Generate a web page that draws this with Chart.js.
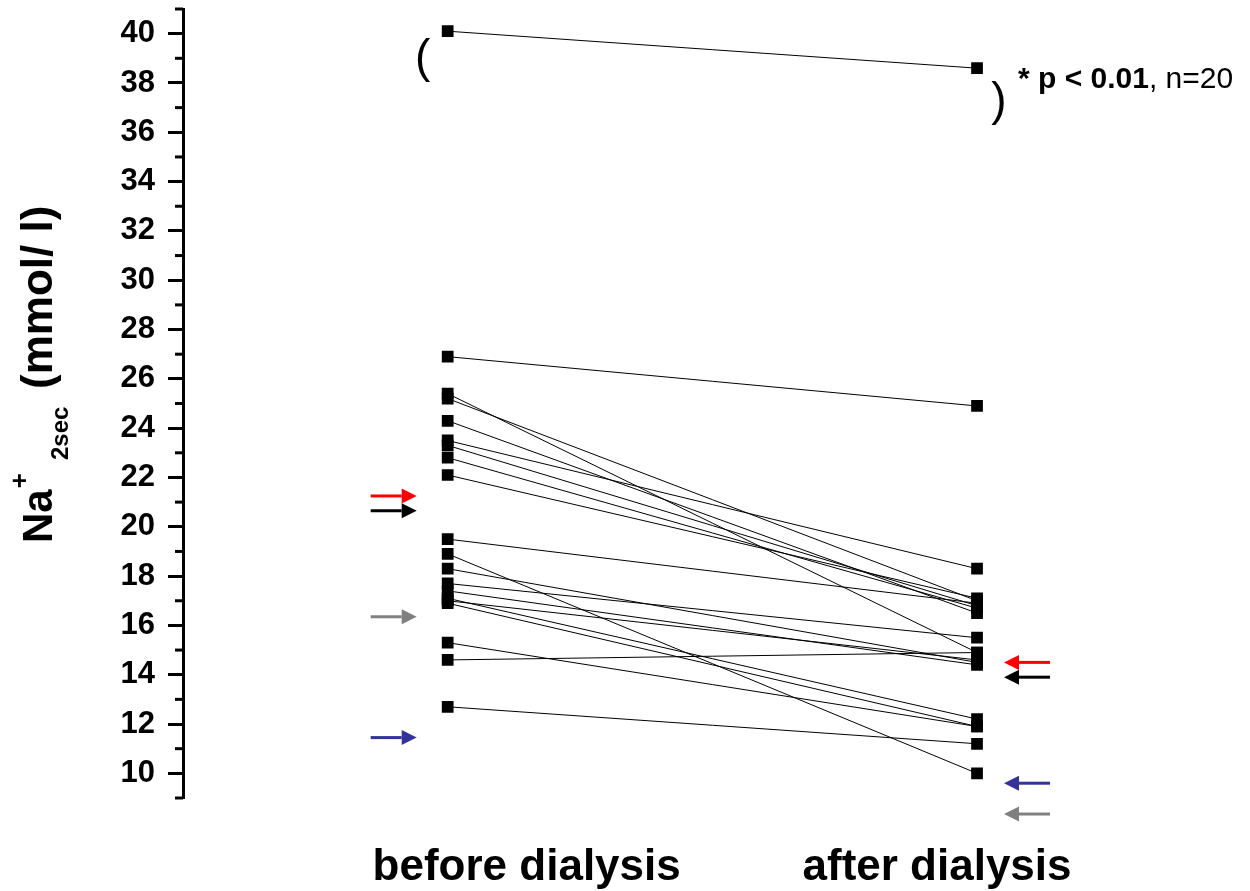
<!DOCTYPE html>
<html>
<head>
<meta charset="utf-8">
<script src="https://cdn.jsdelivr.net/npm/chart.js@4"></script>
<style>
  body { margin: 0; background: #fff; }
  canvas { display: block; }
</style>
</head>
<body>
<canvas id="myChart" width="1250" height="891"></canvas>
<script>
const ctx = document.getElementById('myChart');

// groups on the x axis
const groups = ['before dialysis', 'after dialysis'];

// labelled y ticks
const yTicks = [10, 12, 14, 16, 18, 20, 22, 24, 26, 28, 30, 32, 34, 36, 38, 40];

// Na+ 2sec per patient (n=20), same order in both arrays
const before = [40.1, 26.9, 25.4, 25.2, 24.3, 23.5, 23.3, 22.8, 22.1, 19.5,
                18.9, 18.3, 17.7, 17.4, 17.1, 16.9, 17.0, 15.3, 14.6, 12.7];
const after  = [38.6, 24.9, 14.9, 17.0, 16.5, 18.3, 16.8, 16.7, 17.1, 16.9,
                10.0, 14.5, 15.5, 14.4, 12.2, 11.9, 14.6, 11.9, 14.9, 11.2];

// reference arrows next to each column
const arrowColors = ['#ff0000', '#000000', '#808080', '#333399'];
const arrowBefore = [21.25, 20.65, 16.35, 11.45];
const arrowAfter  = [14.5, 13.9, 8.35, 9.6];

const pText = '* p < 0.01';
const nText = ', n=20';

const FONT = '"Liberation Sans", Arial, sans-serif';

let lineSets = before.map((b, i) => ({
    type: 'line',
    data: [{x: 0, y: b}, {x: 1, y: after[i]}],
    borderColor: '#000',
    borderWidth: 1,
    pointRadius: 0,
    order: 1
}));

let markers = {
    type: 'scatter',
    data: before.map(b => ({x: 0, y: b})).concat(after.map(a => ({x: 1, y: a}))),
    pointStyle: 'rect',
    pointRadius: 8.3,
    backgroundColor: '#000',
    borderColor: '#000',
    borderWidth: 0,
    order: 0
};

function arrow(c, tip, y, dir, color) {
    // dir = 1 points right, -1 points left
    let len = 46, head = 15, half = 7.5;
    c.save();
    c.strokeStyle = color;
    c.fillStyle = color;
    c.lineWidth = 3;
    c.beginPath();
    c.moveTo(tip - dir * len, y);
    c.lineTo(tip - dir * head, y);
    c.stroke();
    c.beginPath();
    c.moveTo(tip, y);
    c.lineTo(tip - dir * head, y - half);
    c.lineTo(tip - dir * head, y + half);
    c.closePath();
    c.fill();
    c.restore();
}

const extras = {
    id: 'extras',
    afterDraw(chart) {
        const c = chart.ctx;
        const xs = chart.scales.x, ys = chart.scales.y;
        const left = chart.chartArea.left;
        const x0 = xs.getPixelForValue(0), x1 = xs.getPixelForValue(1);

        // minor ticks on odd values
        c.save();
        c.strokeStyle = '#000';
        c.lineWidth = 3;
        for (let v = ys.min; v <= ys.max; v += 2) {
            let y = ys.getPixelForValue(v);
            c.beginPath();
            c.moveTo(left - 8, y);
            c.lineTo(left, y);
            c.stroke();
        }
        c.restore();

        // arrows
        arrowBefore.forEach((v, i) => arrow(c, x0 - 31, ys.getPixelForValue(v), 1, arrowColors[i]));
        arrowAfter.forEach((v, i) => arrow(c, x1 + 27, ys.getPixelForValue(v), -1, arrowColors[i]));

        c.save();
        c.fillStyle = '#000';
        // brackets round the outlier
        c.font = '46px ' + FONT;
        c.textAlign = 'center';
        c.textBaseline = 'middle';
        c.fillText('(', x0 - 25, ys.getPixelForValue(before[0]) + 28);
        c.fillText(')', x1 + 22, ys.getPixelForValue(after[0]) + 34);

        // significance note
        c.textAlign = 'left';
        c.textBaseline = 'alphabetic';
        let ty = ys.getPixelForValue(after[0]) + 20;
        let tx = x1 + 41;
        c.font = 'bold 30px ' + FONT;
        c.fillText(pText, tx, ty);
        tx += c.measureText(pText).width;
        c.font = '30px ' + FONT;
        c.fillText(nText, tx, ty);

        // group labels
        c.font = 'bold 44px ' + FONT;
        c.textAlign = 'center';
        c.fillText(groups[0], x0 + 79, 880);
        c.fillText(groups[1], x1 - 40, 880);

        // y title: Na+ 2sec (mmol/ l)
        c.translate(52, 543);
        c.rotate(-Math.PI / 2);
        c.textAlign = 'left';
        c.font = 'bold 42px ' + FONT;
        c.fillText('Na', 0, 0);
        let w = c.measureText('Na').width;
        c.font = 'bold 26px ' + FONT;
        c.fillText('+', w + 1, -24);
        c.font = 'bold 24px ' + FONT;
        c.fillText('2sec', 83, 16);
        c.font = 'bold 44px ' + FONT;
        c.fillText('(mmol/ l)', 154, 0);
        c.restore();
    }
};

new Chart(ctx, {
    data: { datasets: lineSets.concat([markers]) },
    options: {
        responsive: false,
        animation: false,
        layout: { padding: { top: 9, bottom: 93, left: 0, right: 1 } },
        plugins: { legend: { display: false }, tooltip: { enabled: false } },
        scales: {
            x: { type: 'linear', min: -0.5, max: 1.5, display: false },
            y: {
                min: 9,
                max: 41,
                afterBuildTicks: s => { s.ticks = yTicks.map(v => ({value: v})); },
                afterFit: s => {
                    s.width = 183;
                    s.paddingTop = 0;
                    s.paddingBottom = 0;
                },
                ticks: {
                    color: '#000',
                    padding: 13,
                    font: { family: FONT, size: 31, weight: 'bold' }
                },
                grid: {
                    drawOnChartArea: false,
                    drawTicks: true,
                    tickLength: 15,
                    tickWidth: 3,
                    tickColor: '#000'
                },
                border: { width: 3, color: '#000' }
            }
        }
    },
    plugins: [extras]
});
</script>
</body>
</html>
